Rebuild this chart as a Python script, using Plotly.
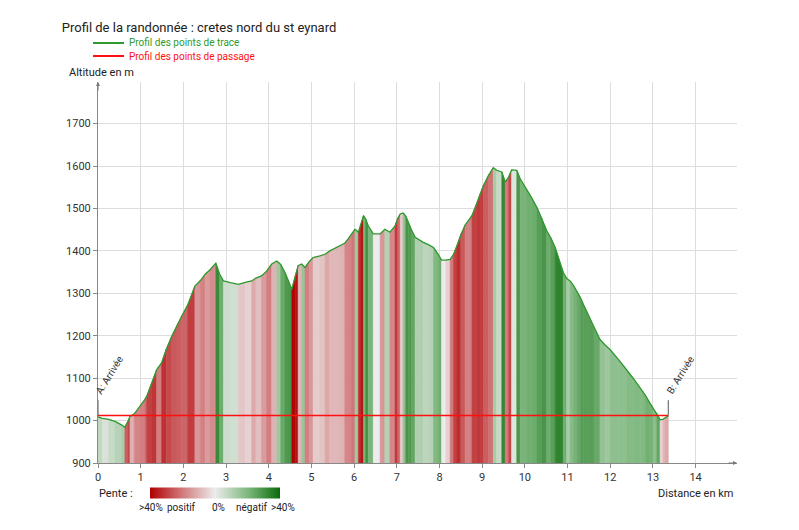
import plotly.graph_objects as go
from plotly.colors import sample_colorscale

# profil (km, m)
dist_km = [0.00, 0.10, 0.25, 0.40, 0.55, 0.63, 0.70, 0.75, 0.85, 0.98,
           1.10, 1.14, 1.25, 1.375, 1.49, 1.60, 1.73, 1.85, 1.96, 2.10,
           2.27, 2.40, 2.51, 2.62, 2.74, 2.76, 2.85, 2.94, 3.10, 3.29,
           3.45, 3.60, 3.70, 3.83, 3.95, 4.07, 4.19, 4.28, 4.38, 4.48,
           4.54, 4.62, 4.69, 4.77, 4.85, 4.95, 5.04, 5.20, 5.32, 5.43,
           5.55, 5.67, 5.78, 5.86, 5.95, 6.02, 6.10, 6.16, 6.22, 6.27,
           6.33, 6.45, 6.61, 6.72, 6.84, 6.96, 7.02, 7.08, 7.15, 7.21,
           7.27, 7.35, 7.43, 7.62, 7.75, 7.86, 7.97, 8.05, 8.15, 8.25,
           8.33, 8.40, 8.50, 8.60, 8.68, 8.76, 8.87, 8.95, 9.03, 9.15,
           9.26, 9.34, 9.46, 9.54, 9.62, 9.69, 9.81, 9.89, 10.04, 10.16,
           10.28, 10.40, 10.51, 10.61, 10.71, 10.80, 10.90, 10.98, 11.06, 11.14,
           11.22, 11.30, 11.37, 11.50, 11.62, 11.76, 11.88, 12.00, 12.20, 12.39,
           12.55, 12.70, 12.82, 12.93, 13.01, 13.09, 13.17, 13.23, 13.29, 13.36]
altitude = [1009, 1005, 1003, 998, 990, 984, 998, 1010, 1016, 1033,
            1050, 1057, 1085, 1120, 1136, 1168, 1199, 1224, 1246, 1272,
            1317, 1330, 1345, 1355, 1369, 1371, 1345, 1329, 1325, 1321,
            1326, 1329, 1336, 1341, 1352, 1369, 1376, 1368, 1349, 1325,
            1309, 1340, 1365, 1369, 1361, 1375, 1384, 1388, 1392, 1400,
            1406, 1412, 1418, 1428, 1440, 1451, 1444, 1462, 1483, 1475,
            1459, 1440, 1440, 1451, 1444, 1459, 1476, 1487, 1489, 1482,
            1467, 1448, 1432, 1420, 1414, 1408, 1392, 1378, 1378, 1380,
            1392, 1410, 1440, 1461, 1472, 1483, 1511, 1533, 1554, 1578,
            1596, 1590, 1586, 1562, 1574, 1591, 1590, 1570, 1546, 1525,
            1503, 1476, 1448, 1430, 1408, 1380, 1349, 1335, 1329, 1318,
            1305, 1290, 1274, 1245, 1218, 1191, 1178, 1167, 1143, 1120,
            1098, 1077, 1060, 1041, 1028, 1018, 1002, 1003, 1006, 1011]

# points de passage
passage_km = [0.0, 13.36]
passage_alt = [1012, 1012]
passage_names = ["A: Arrivée", "B: Arrivée"]

x_ticks = list(range(0, 15))
y_ticks = list(range(900, 1800, 100))

legend_labels = ["Profil des points de trace", "Profil des points de passage"]
legend_colors = ["#2e9a2e", "#ff1010"]

pente_scale = [[0, "#b00000"], [0.25, "#d27a7d"], [0.5, "#ececec"],
               [0.75, "#7fb87f"], [1, "#0a6b0a"]]
BASE = 900

fig = go.Figure()

# bandes colorées selon la pente
for i in range(len(dist_km) - 1):
    x0, x1 = dist_km[i], dist_km[i + 1]
    y0, y1 = altitude[i], altitude[i + 1]
    pente = (y1 - y0) / ((x1 - x0) * 10)  # en %
    v = max(-1.0, min(1.0, -pente / 40))
    v = (abs(v) ** 0.7) * (1 if v >= 0 else -1)  # un peu plus contrasté
    col = sample_colorscale(pente_scale, [(v + 1) / 2])[0]
    fig.add_trace(go.Scatter(
        x=[x0, x0, x1, x1], y=[BASE, y0, y1, BASE],
        mode="lines", fill="toself", fillcolor=col,
        line=dict(color=col, width=0.6),
        hoverinfo="skip", showlegend=False))

fig.add_trace(go.Scatter(
    x=dist_km, y=altitude, mode="lines", showlegend=False,
    line=dict(color=legend_colors[0], width=1.3), name=legend_labels[0]))

fig.add_trace(go.Scatter(
    x=passage_km, y=passage_alt, mode="lines", showlegend=False,
    line=dict(color=legend_colors[1], width=1.5), name=legend_labels[1]))

# trace vide juste pour la barre de couleurs
fig.add_trace(go.Scatter(
    x=[0], y=[BASE], mode="markers", showlegend=False, hoverinfo="skip",
    marker=dict(size=0.1, color=[0], colorscale=pente_scale, cmin=-40, cmax=40,
                showscale=True,
                colorbar=dict(orientation="h", x=0.183, xanchor="center",
                              y=-0.078, yanchor="middle", len=130, lenmode="pixels",
                              thickness=11, outlinewidth=0, ticks="",
                              showticklabels=False, xpad=0, ypad=0))))

for km, alt, name in zip(passage_km, passage_alt, passage_names):
    fig.add_shape(type="line", x0=km, x1=km, y0=alt, y1=alt + 36,
                  line=dict(color="#555", width=1))
    fig.add_annotation(x=km, y=alt + 40, text=name, textangle=-58,
                       showarrow=False, xanchor="left", yanchor="bottom",
                       xshift=-7, font=dict(size=10, color="#333"))

# flèches des axes
fig.add_annotation(x=0, y=1798, ax=0, ay=10, axref="pixel", ayref="pixel",
                   text="", showarrow=True, arrowhead=2, arrowsize=0.8,
                   arrowwidth=1, arrowcolor="#777")
fig.add_annotation(x=14.97, y=BASE, ax=-10, ay=0, text="", showarrow=True,
                   arrowhead=2, arrowsize=0.8, arrowwidth=1, arrowcolor="#777")

# légende dessinée à la main
for k, (lab, col) in enumerate(zip(legend_labels, legend_colors)):
    yl = 1.1024 - k * 0.0342
    fig.add_shape(type="line", xref="paper", yref="paper",
                  x0=-0.0078, x1=0.0407, y0=yl, y1=yl,
                  line=dict(color=col, width=2))
    fig.add_annotation(xref="paper", yref="paper", x=0.0454, y=yl, text=lab,
                       showarrow=False, xanchor="left", yanchor="middle",
                       font=dict(size=10, color=col))

txt = dict(xref="paper", yref="paper", showarrow=False, yanchor="middle")
fig.add_annotation(x=-0.0485, y=1.026, text="Altitude en m", xanchor="left",
                   font=dict(size=11, color="#222"), **txt)
fig.add_annotation(x=0.997, y=-0.079, text="Distance en km", xanchor="right",
                   font=dict(size=11, color="#222"), **txt)
fig.add_annotation(x=-0.002, y=-0.079, text="Pente :", xanchor="left",
                   font=dict(size=11, color="#222"), **txt)
for xp, lab in zip([0.083, 0.131, 0.188, 0.241, 0.29],
                   [">40%", "positif", "0%", "négatif", ">40%"]):
    fig.add_annotation(x=xp, y=-0.1155, text=lab, xanchor="center",
                       font=dict(size=10, color="#222"), **txt)

# la page a une marge de 8 px : figure réduite d'autant
fig.update_layout(
    width=791, height=522,
    margin=dict(l=90, r=62, t=74, b=67),
    paper_bgcolor="white", plot_bgcolor="white",
    font=dict(family="Roboto, sans-serif", size=11, color="#333"),
    title=dict(text="Profil de la randonnée : cretes nord du st eynard",
               xref="container", x=0.068, xanchor="left",
               yref="container", y=0.962, yanchor="middle",
               font=dict(size=13, color="#222")),
    showlegend=False,
)
fig.update_xaxes(range=[0, 14.97], tickvals=x_ticks, showgrid=True,
                 gridcolor="#dddddd", showline=True, linecolor="#888",
                 ticks="outside", ticklen=4, tickcolor="#888", zeroline=False)
fig.update_yaxes(range=[BASE, 1798], tickvals=y_ticks, showgrid=True,
                 gridcolor="#dddddd", showline=True, linecolor="#888",
                 ticks="outside", ticklen=4, tickcolor="#888", zeroline=False)

fig.write_html("out.html")
